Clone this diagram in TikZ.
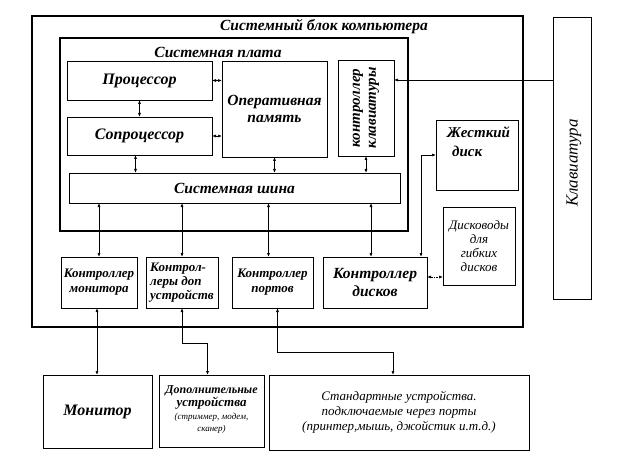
\documentclass[tikz,border=0pt]{standalone}
\usepackage{fontspec}
\setmainfont{Liberation Serif}
\usetikzlibrary{arrows.meta,calc}
\begin{document}
\begin{tikzpicture}[x=1pt,y=-1pt,
 box/.style={draw, line width=0.8pt, anchor=north west, inner sep=0pt, outer sep=0pt, align=center},
 thickbox/.style={draw, line width=2.6pt, anchor=north west, inner sep=0pt, outer sep=0pt},
 bi/.style={font=\fontsize{#1}{#1}\selectfont\bfseries\itshape},
 ri/.style={font=\fontsize{#1}{#1}\selectfont\itshape},
 darr/.style={line width=0.7pt, {Latex[length=4pt,width=3pt]}-{Latex[length=4pt,width=3pt]}},
 arr/.style={line width=0.7pt, -{Latex[length=4pt,width=3pt]}},
]
\useasboundingbox (0,0) rectangle (624,476);
% outer blocks
\node[thickbox, minimum width=491pt, minimum height=311pt] (sys) at (32,16) {};
\node[bi=15.5] (systitle) at (324,27) {Системный блок компьютера};
\node[thickbox, minimum width=348pt, minimum height=193pt] (board) at (60,38) {};
\node[bi=15.5] (boardtitle) at (218,52) {Системная плата};
% board contents
\node[box, bi=16, minimum width=145pt, minimum height=39pt] (cpu) at (67,61) {Процессор};
\node[box, bi=16, minimum width=145pt, minimum height=38pt] (fpu) at (67,117) {Сопроцессор};
\node[box, bi=15.5, minimum width=105pt, minimum height=96pt] (ram) at (222,61) {Оперативная\\[2pt]память};
\node[box, minimum width=56pt, minimum height=96pt] (kbc) at (338,60) {};
\node[bi=15, rotate=90, align=center] (kbctext) at (kbc.center) {контроллер\\[1pt]клавиатуры};
\node[box, bi=15.5, minimum width=331pt, minimum height=30pt] (bus) at (69,173) {Системная шина};
% controllers
\node[box, bi=13, minimum width=76pt, minimum height=51pt] (monc) at (61,257) {Контроллер\\[2pt]монитора};
\node[box, bi=13, minimum width=72pt, minimum height=51pt, align=left] (dopc) at (146,257) {Контрол-\\[1pt]леры доп\\[1pt]устройств};
\node[box, bi=13, minimum width=81pt, minimum height=51pt] (portc) at (232,257) {Контроллер\\[2pt]портов};
\node[box, bi=15.5, minimum width=104pt, minimum height=51pt] (dc) at (323,257) {Контроллер\\[2pt]дисков};
% drives
\node[box, minimum width=82pt, minimum height=70pt] (hdd) at (436,120) {};
\node[bi=15, align=left, anchor=north west, inner sep=0pt] (hddtext) at (447,126) {Жесткий\\[4pt]\hspace*{5pt}диск};
\node[box, ri=13, minimum width=72pt, minimum height=78pt] (fdd) at (443,207) {Дисководы\\[1pt]для\\[1pt]гибких\\[1pt]дисков};
% keyboard
\node[box, minimum width=38pt, minimum height=282pt] (kb) at (553,17) {};
\node[ri=17, rotate=90] (kbtext) at (574,163) {Клавиатура};
% peripherals
\node[box, bi=16, minimum width=109pt, minimum height=73pt] (mon) at (43,375) {Монитор};
\node[box, minimum width=105pt, minimum height=72pt] (dop) at (159,375) {};
\node[align=center] (doptext) at (211.5,410) {{\fontsize{12}{13}\selectfont\bfseries\itshape Дополнительные}\\[1pt]{\fontsize{13}{14}\selectfont\bfseries\itshape устройства}\\[1pt]{\fontsize{9}{10}\selectfont\itshape (стриммер, модем,}\\{\fontsize{9}{10}\selectfont\itshape сканер)}};
\node[box, ri=13, minimum width=260pt, minimum height=75pt] (std) at (269,375) {Стандартные устройства.\\[2pt]подключаемые через порты\\[2pt](принтер,мышь, джойстик и.т.д.)};
% connectors on board
\draw[darr] (cpu.south) -- (fpu.north);
\draw[darr] (cpu.east) -- (ram.west |- cpu.east);
\draw[darr] (fpu.east) -- (ram.west |- fpu.east);
\draw[darr] ([xshift=-4pt]fpu.south) -- ([xshift=-4pt]fpu.south |- bus.north);
\draw[darr] (ram.south) -- (ram.south |- bus.north);
\draw[darr] (kbc.south) -- (kbc.south |- bus.north);
\draw[arr] (kb.west |- 0,80) -- (kbc.east |- 0,80);
% bus to controllers
\draw[darr] (bus.south -| monc.north) -- (monc.north);
\draw[darr] (bus.south -| dopc.north) -- (dopc.north);
\draw[darr] ([xshift=-4pt]bus.south -| portc.north) -- ([xshift=-4pt]portc.north);
\draw[darr] ([xshift=-4pt]bus.south -| dc.north) -- ([xshift=-4pt]dc.north);
% disks
\draw[darr] ([xshift=-6pt]dc.north east) |- (hdd.west);
\draw[darr, densely dotted] (dc.east |- 0,277) -- (fdd.west |- 0,277);
% to peripherals
\draw[darr] ([xshift=-2pt]monc.south) -- ([xshift=-2pt]monc.south |- mon.north);
\draw[darr] (dopc.south) -- (dopc.south |- 0,343) -| ([xshift=-4pt]dop.north);
\draw[darr] ([xshift=5pt]portc.south) -- ([xshift=5pt]portc.south |- 0,352) -| ([xshift=-6pt]std.north);
\end{tikzpicture}
\end{document}
